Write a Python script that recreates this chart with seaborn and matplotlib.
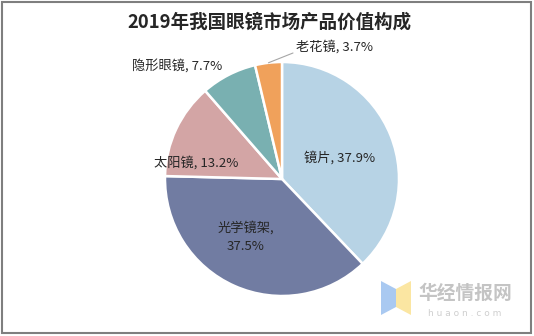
import numpy as np
import matplotlib
matplotlib.use("Agg")
import matplotlib.pyplot as plt
import seaborn as sns
from matplotlib.patches import Rectangle, Polygon

categories = ["镜片", "光学镜架", "太阳镜", "隐形眼镜", "老花镜"]
values = [37.9, 37.5, 13.2, 7.7, 3.7]
pct_labels = ["37.9%", "37.5%", "13.2%", "7.7%", "3.7%"]
colors = ["#b7d3e5", "#717ca2", "#d3a5a5", "#79b0b1", "#f0a15b"]
title = "2019年我国眼镜市场产品价值构成"

sns.set_theme(style="white")
plt.rcParams["font.family"] = ["Noto Sans CJK SC", "DejaVu Sans"]

W, H = 534, 336
fig = plt.figure(figsize=(W / 100, H / 100), dpi=100)
ax = fig.add_axes([0, 0, 1, 1])

cx, cy, R = 282, 179, 117  # pixel centre and radius
palette = sns.color_palette(colors)
wedges, _ = ax.pie(values, colors=palette, startangle=90, counterclock=False,
                   radius=1.0, center=(0, 0),
                   wedgeprops=dict(edgecolor="white", linewidth=1.8))
ax.set_xlim(-cx / R, (W - cx) / R)
ax.set_ylim(-(H - cy) / R, cy / R)
ax.set_aspect("auto")
ax.axis("off")

def px(x, y):
    return ((x - cx) / R, (cy - y) / R)

txtkw = dict(fontsize=9.5, color="#262626")
# inside labels
ax.text(*px(340, 158), f"{categories[0]}, {pct_labels[0]}", ha="center", va="center", **txtkw)
ax.text(*px(246, 237), f"{categories[1]},\n{pct_labels[1]}", ha="center", va="center",
        linespacing=1.5, **txtkw)
ax.text(*px(196, 163), f"{categories[2]}, {pct_labels[2]}", ha="center", va="center", **txtkw)
# outside labels
ax.text(*px(177, 66), f"{categories[3]}, {pct_labels[3]}", ha="center", va="center", **txtkw)
ax.text(*px(296, 47), f"{categories[4]}, {pct_labels[4]}", ha="left", va="center", **txtkw)

# leader line for the smallest slice
w = wedges[4]
mid = np.deg2rad((w.theta1 + w.theta2) / 2)
ex, ey = np.cos(mid), np.sin(mid)
lx, ly = px(293, 53)
ax.plot([ex, lx], [ey, ly], color="#a6a6a6", lw=0.8)

fig.text(269 / W, 1 - 22 / H, title, ha="center", va="center", fontsize=13.3,
         fontweight="bold", color="#262626")

# frame
fig.patches.append(Rectangle((2 / W, 3 / H), 529 / W, 331 / H, transform=fig.transFigure,
                             fill=False, edgecolor="#7f7f7f", lw=1.5))

# watermark
def fpx(x, y):
    return (x / W, 1 - y / H)
fig.patches.append(Polygon([fpx(381, 281), fpx(396, 289), fpx(396, 307), fpx(381, 315)],
                           closed=True, transform=fig.transFigure, facecolor="#a9c9f1",
                           edgecolor="none"))
fig.patches.append(Polygon([fpx(396, 289), fpx(411, 281), fpx(411, 315), fpx(396, 307)],
                           closed=True, transform=fig.transFigure, facecolor="#fbe6a2",
                           edgecolor="none"))
fig.text(*fpx(465, 293), "华经情报网", ha="center", va="center", fontsize=13.5,
         fontweight="bold", color="#c4c4c4")
fig.text(*fpx(465, 314), "h u a o n . c o m", ha="center", va="center", fontsize=6.5,
         color="#cfcfcf", family=["DejaVu Sans"])

fig.savefig("out.png", dpi=100)
